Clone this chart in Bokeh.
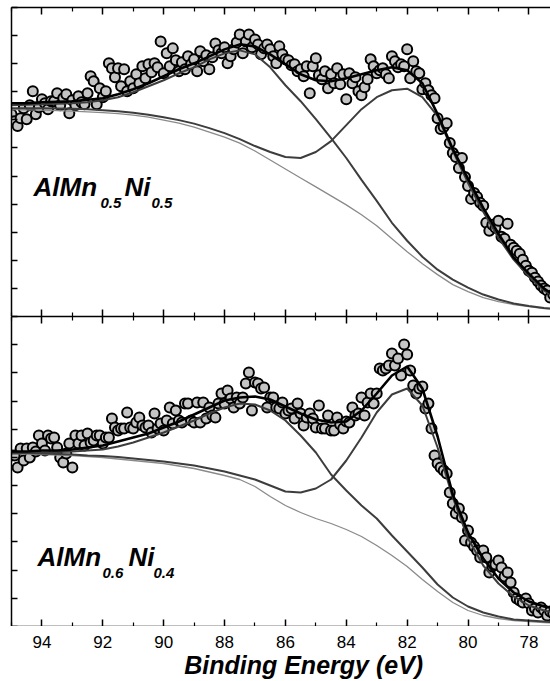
import numpy as np
from bokeh.plotting import figure
from bokeh.models import Range1d, FixedTicker, LinearAxis, Label
from bokeh.core.properties import value
from bokeh.layouts import column
from bokeh.embed import file_html
from bokeh.resources import INLINE

# ---- measured spectra (binding energy grid, 0.1 eV steps) ----
energy = np.round(np.arange(95.0, 77.15, -0.1), 1)

counts_a = [  # AlMn0.5Ni0.5
    203, 196, 191, 199, 209, 198, 212, 226, 203, 210,
    218, 214, 208, 216, 216, 224, 212, 219, 223, 204,
    217, 212, 221, 215, 213, 224, 241, 236, 213, 229,
    220, 226, 254, 249, 240, 249, 231, 248, 226, 236,
    229, 243, 234, 251, 239, 253, 245, 254, 250, 276,
    244, 264, 251, 269, 257, 246, 255, 248, 261, 253,
    258, 246, 266, 256, 262, 248, 260, 274, 267, 264,
    270, 254, 261, 268, 275, 283, 264, 276, 283, 270,
    278, 273, 263, 269, 273, 268, 261, 254, 271, 263,
    258, 257, 252, 253, 246, 248, 241, 251, 224, 251,
    259, 242, 238, 246, 229, 243, 234, 249, 233, 243,
    218, 244, 234, 240, 226, 222, 230, 238, 258, 251,
    244, 247, 249, 243, 239, 261, 256, 250, 253, 251,
    268, 239, 256, 246, 244, 228, 234, 227, 222, 219,
    199, 188, 190, 194, 174, 164, 160, 149, 159, 140,
    131, 118, 124, 120, 114, 111, 94, 86, 92, 89,
    96, 80, 78, 93, 72, 69, 66, 63, 57, 51,
    46, 44, 39, 35, 31, 28, 26, 19, 22,
]

counts_b = [  # AlMn0.6Ni0.4
    171, 171, 159, 178, 166, 178, 169, 179, 175, 191,
    183, 176, 191, 188, 189, 179, 169, 164, 173, 183,
    159, 191, 183, 191, 181, 193, 184, 186, 191, 191,
    183, 189, 189, 208, 199, 196, 198, 198, 214, 199,
    198, 204, 209, 201, 199, 201, 194, 213, 198, 203,
    196, 206, 219, 203, 216, 206, 204, 223, 223, 206,
    204, 224, 204, 224, 208, 219, 211, 209, 223, 233,
    223, 236, 228, 219, 229, 223, 229, 243, 254, 216,
    244, 243, 238, 239, 219, 229, 229, 219, 218, 224,
    213, 216, 218, 208, 223, 213, 201, 209, 213, 208,
    199, 221, 198, 198, 211, 196, 196, 209, 202, 198,
    205, 204, 219, 211, 213, 229, 211, 224, 233, 223,
    233, 258, 256, 258, 261, 273, 261, 268, 251, 282,
    272, 256, 241, 233, 238, 240, 218, 223, 198, 171,
    163, 159, 156, 153, 134, 123, 113, 118, 109, 86,
    96, 84, 80, 76, 69, 76, 69, 54, 60, 62,
    66, 59, 50, 54, 44, 34, 28, 26, 24, 28,
    23, 16, 18, 14, 19, 16, 11, 15, 13,
]

# ---- fitted components (0.5 eV steps, 95 -> 77 eV) ----
fit_energy = np.arange(95.0, 76.9, -0.5)

envelope_a = [214, 214, 215, 215.5, 216, 217.5, 219, 223, 228, 234, 241, 248, 254,
              261, 268, 273, 271, 263, 253, 243, 237, 236, 239, 243, 247, 250, 247,
              234, 203, 168, 138, 109, 83, 59, 43, 28, 18]
peak1_a = [212, 212.5, 213, 213.5, 214, 215, 217, 220, 225, 231, 237, 244, 250, 258,
           264, 267, 263, 250, 232, 216, 198, 179, 159, 137, 116, 94, 76, 60, 47, 37,
           29, 22, 17, 13, 10.5, 8.5, 7.5]
peak2_a = [209, 209, 209, 208.7, 208.4, 207.8, 207, 206, 204.5, 202.5, 200, 197, 193.5,
           189, 184, 178, 171, 165, 160, 159, 165, 176, 192, 208, 220, 227, 228.5, 220,
           201, 166, 134, 105, 79, 57, 40, 26, 17]
background_a = [207.5, 207.3, 207, 206.5, 206, 205.3, 204.5, 203.5, 202, 200, 197, 194,
                190, 185, 180, 174, 166, 157, 148, 139, 130, 121, 112, 102, 91, 78, 65,
                53, 42, 32, 25, 19, 15, 12, 10, 8, 7]

envelope_b = [175, 175, 176, 176, 177, 179, 181, 185, 189, 193, 199, 205, 212, 219, 226,
              229, 230, 227, 220, 213, 207, 204, 205, 216, 233, 251, 260, 238, 190, 132,
              94, 68, 48, 34, 25, 20, 17]
peak1_b = [173, 173.5, 174, 174.5, 175, 176, 177, 180, 184, 189, 194, 200, 206, 213, 219,
           223, 222, 216, 206, 191, 174, 152, 136, 121, 108, 91, 75, 59, 42, 29, 20, 14,
           10, 7, 6, 5, 4]
peak2_b = [174, 173.5, 173, 172.5, 172, 171, 170.5, 169.5, 168, 166.5, 165, 163, 161, 158,
           155, 151, 147, 141, 135, 134, 138, 147, 166, 189, 214, 232, 238, 221, 179, 129,
           88, 61, 43, 30, 21, 16, 13]
background_b = [173, 172.5, 172, 171.5, 171, 170, 169, 167.5, 166, 164.5, 163, 160.5, 158,
                154.5, 151, 147, 140, 130, 121, 114, 108, 103, 97, 90, 81, 71, 60, 47, 35,
                24, 16, 11, 8, 6, 5, 4, 3]

major_x = [94, 92, 90, 88, 86, 84, 82, 80, 78]
minor_x = [95, 93, 91, 89, 87, 85, 83, 81, 79, 77]
major_x_labels = ["94", "92", "90", "88", "86", "84", "82", "80", "78"]
x_title = "Binding Energy (eV)"
FONT = "Liberation Sans"

X_RANGE = (95.0, 77.29)
Y_MAX = 310.0
y_ticks = [Y_MAX * k / 11 for k in range(12)]


def style_axis(ax, major=7, minor=4):
    ax.axis_line_color = "black"
    ax.axis_line_width = 1.5
    ax.major_tick_in = major
    ax.major_tick_out = 0
    ax.minor_tick_in = minor
    ax.minor_tick_out = 0
    ax.major_tick_line_color = "black"
    ax.minor_tick_line_color = "black"
    ax.major_tick_line_width = 1.5
    ax.minor_tick_line_width = 1.2
    # tick marks only; the numbers sit in the strip below the lower panel
    ax.major_label_text_color = None
    ax.major_label_text_font_size = "0px"
    ax.major_label_standoff = 0


def bare_figure(height, y_max, border_top=0):
    p = figure(width=550, height=height, output_backend="svg", toolbar_location=None,
               x_range=Range1d(*X_RANGE), y_range=Range1d(0, y_max),
               x_axis_location=None, y_axis_location=None,
               min_border_left=11, min_border_right=0,
               min_border_top=border_top, min_border_bottom=0)
    p.outline_line_color = None
    p.xgrid.visible = False
    p.ygrid.visible = False
    return p


def make_panel(height, border_top, counts, env, p1, p2, bg):
    p = bare_figure(height, Y_MAX, border_top)

    for side in ("above", "below"):
        ax = LinearAxis(ticker=FixedTicker(ticks=major_x, minor_ticks=minor_x))
        style_axis(ax)
        p.add_layout(ax, side)

    left_ax = LinearAxis(ticker=FixedTicker(ticks=y_ticks, minor_ticks=[]))
    style_axis(left_ax, major=6, minor=0)
    p.add_layout(left_ax, "left")

    p.scatter(energy, counts, size=10, fill_color="#c4c4c4",
              line_color="black", line_width=2)
    p.line(fit_energy, bg, line_color="#8a8a8a", line_width=1.3)
    p.line(fit_energy, p2, line_color="#3d3d3d", line_width=2)
    p.line(fit_energy, p1, line_color="#3d3d3d", line_width=2)
    p.line(fit_energy, env, line_color="black", line_width=2.6)
    return p


def add_formula(p, y_main, y_sub, parts):
    for text, offset, is_sub in parts:
        p.add_layout(Label(x=X_RANGE[0], y=y_sub if is_sub else y_main, x_offset=offset,
                           text=text, text_font=FONT,
                           text_font_style="bold italic",
                           text_font_size="15px" if is_sub else "26px",
                           text_color="black", text_baseline="middle"))


top = make_panel(316, 7, counts_a, envelope_a, peak1_a, peak2_a, background_a)
bottom = make_panel(310, 0, counts_b, envelope_b, peak1_b, peak2_b, background_b)

add_formula(top, 130, 114, [("AlMn", 22, False), ("0.5", 89, True),
                            ("Ni", 113, False), ("0.5", 140, True)])
add_formula(bottom, 70, 54, [("AlMn", 26, False), ("0.6", 91, True),
                             ("Ni", 117, False), ("0.4", 142, True)])

# strip under the lower panel: tick numbers and the axis title
strip = bare_figure(55, 55)
strip.text(x=major_x, y=[39.5] * len(major_x), text=major_x_labels,
           text_font=value(FONT), text_font_size="17px", text_color="black",
           text_align="center", text_baseline="middle")
strip.text(x=[85.4], y=[17], text=[x_title], text_font=value(FONT),
           text_font_style="bold italic", text_font_size="25px",
           text_color="black", text_align="center", text_baseline="middle")

layout = column(top, bottom, strip, spacing=0)
open("out.html", "w").write(file_html(layout, INLINE))
